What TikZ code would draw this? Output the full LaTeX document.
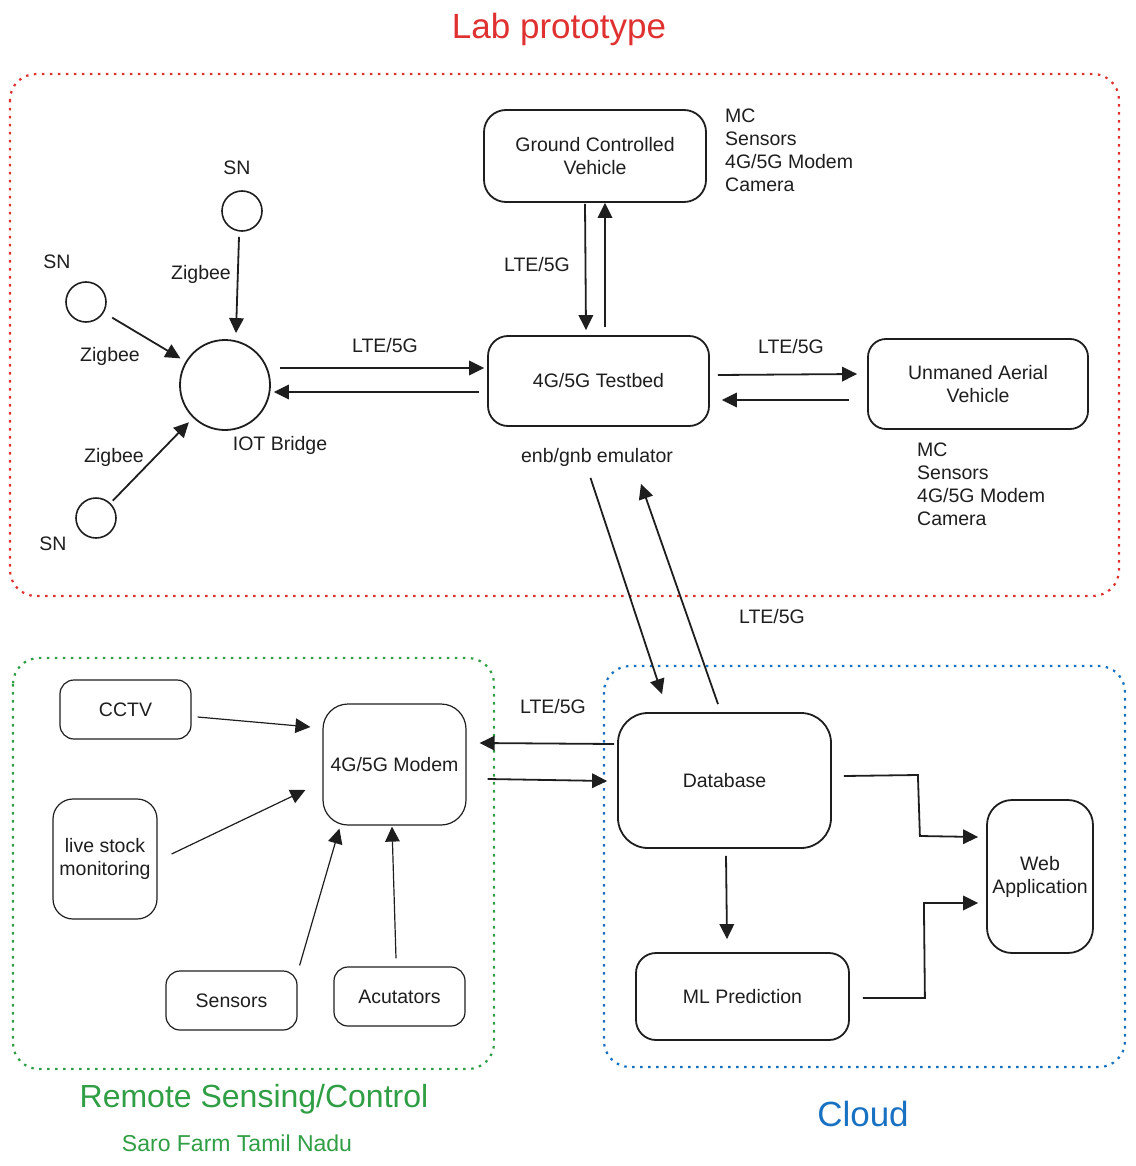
\documentclass[tikz,border=0pt]{standalone}
\usepackage{fontspec}
\setmainfont{Liberation Sans}
\usetikzlibrary{arrows.meta}

\definecolor{labred}{RGB}{224,49,49}
\definecolor{farmgreen}{RGB}{47,158,68}
\definecolor{cloudblue}{RGB}{25,113,194}
\definecolor{ink}{RGB}{30,30,30}

\tikzset{
  blk/.style={draw=ink, line width=1.8pt, rounded corners=18pt, align=center, text=ink, inner sep=2pt},
  sketch/.style={blk, line width=1.2pt},
  sn/.style={draw=ink, circle, line width=1.6pt, minimum size=40pt, inner sep=0pt},
  arr/.style={draw=ink, line width=1.8pt, -{Triangle[length=15pt,width=14.5pt]}},
  thinarr/.style={arr, line width=1.2pt},
  lbl/.style={text=ink, inner sep=0pt},
  region/.style={line width=2.2pt, dash pattern=on 2.5pt off 5.5pt, rounded corners=26pt},
  title/.style={inner sep=0pt, font=\fontsize{35}{40}\selectfont},
}

\begin{document}
\begin{tikzpicture}[x=1pt,y=-1pt,font=\fontsize{19.5}{23}\selectfont]
    \useasboundingbox (0,0) rectangle (1135,1166);

    %Regions
    \draw [region, labred] (10,74) rectangle (1119,596);
    \draw [region, farmgreen] (13,658) rectangle (494,1069);
    \draw [region, cloudblue] (604,666) rectangle (1125,1067);

    % Titles
    \node [title, text=labred] (labtitle) at (559,29) {Lab prototype};
    \node [title, text=farmgreen, font=\fontsize{32}{36}\selectfont] (farmtitle) at (254,1099) {Remote Sensing/Control};
    \node [title, text=farmgreen, font=\fontsize{23}{27}\selectfont] (farmsub) at (237,1143) {Saro Farm Tamil Nadu};
    \node [title, text=cloudblue] (cloudtitle) at (863,1114) {Cloud};

    %Lab prototype: nodes
    \node [blk, rounded corners=22pt, minimum width=222pt, minimum height=92pt] (gcv) at (595,156) {Ground Controlled\\Vehicle};
    \node [blk, rounded corners=20pt, minimum width=221pt, minimum height=90pt] (tb) at (598.5,381) {4G/5G Testbed};
    \node [blk, minimum width=220pt, minimum height=90pt] (uav) at (978,384) {Unmaned Aerial\\Vehicle};
    \node [sn, line width=1.8pt, minimum size=90pt] (bridge) at (225,385) {};
    \node [sn] (snT) at (242,211) {};
    \node [sn] (snL) at (86,302) {};
    \node [sn] (snB) at (96,518) {};

    % Text Node
    \node [lbl, anchor=north west, align=left] (gcvlist) at (725,109) {MC\\Sensors\\4G/5G Modem\\Camera};
    \node [lbl, anchor=north west, align=left] (uavlist) at (917,443) {MC\\Sensors\\4G/5G Modem\\Camera};
    \node [lbl] (emu) at (597,457) {enb/gnb emulator};
    \node [lbl] (bridgelbl) at (280,445) {IOT Bridge};
    \node [lbl] (snTlbl) at (237,168) {SN};
    \node [lbl] (snLlbl) at (57,262) {SN};
    \node [lbl] (snBlbl) at (53,544) {SN};
    \node [lbl] (zbT) at (201,274) {Zigbee};
    \node [lbl] (zbL) at (110,356) {Zigbee};
    \node [lbl] (zbB) at (114,457) {Zigbee};
    \node [lbl] (lteBr) at (385,346) {LTE/5G};
    \node [lbl] (lteGcv) at (537,265) {LTE/5G};
    \node [lbl] (lteUav) at (791,347) {LTE/5G};
    \node [lbl] (lteDb) at (772,617) {LTE/5G};
    \node [lbl] (lteMd) at (553,707) {LTE/5G};

    %Lab prototype: connectors
    \draw [arr] ([xshift=-3pt,yshift=-5pt]snT.south) -- ([xshift=11pt,yshift=6pt]bridge.north);
    \draw [arr, shorten <=9.7pt, shorten >=6pt] (snL) -- (bridge);
    \draw [arr, shorten <=3.4pt, shorten >=6pt] (snB) -- (bridge);
    \draw [arr] ([xshift=9pt,yshift=17pt]bridge.east) -- ([xshift=-3pt,yshift=13pt]tb.west);
    \draw [arr] ([xshift=-8pt,yshift=-11pt]tb.west) -- ([xshift=3pt,yshift=-7pt]bridge.east);
    \draw [arr] ([xshift=-10pt,yshift=-1pt]gcv.south) -- ([xshift=-12.5pt,yshift=5pt]tb.north);
    \draw [arr] ([xshift=6.5pt,yshift=8pt]tb.north) -- ([xshift=10pt]gcv.south);
    \draw [arr] ([xshift=8pt,yshift=6pt]tb.east) -- ([xshift=-10pt,yshift=10pt]uav.west);
    \draw [arr] ([xshift=-18pt,yshift=-16pt]uav.west) -- ([xshift=12pt,yshift=-19pt]tb.east);

    %Remote sensing: nodes
    \node [sketch, rounded corners=25pt, minimum width=143pt, minimum height=121pt] (modem) at (394.5,764.5) {4G/5G Modem};
    \node [sketch, rounded corners=14pt, minimum width=131pt, minimum height=59pt] (cctv) at (125.5,709.5) {CCTV};
    \node [sketch, rounded corners=20pt, minimum width=104pt, minimum height=120pt] (stock) at (105,859) {live stock\\monitoring};
    \node [sketch, rounded corners=14pt, minimum width=131pt, minimum height=59pt] (sens) at (231.5,1000.5) {Sensors};
    \node [sketch, rounded corners=14pt, minimum width=131pt, minimum height=59pt] (act) at (399.5,996.5) {Acutators};

    %Remote sensing: connectors
    \draw [thinarr] ([xshift=6pt,yshift=-7.5pt]cctv.east) -- ([xshift=-12pt,yshift=37.5pt]modem.west);
    \draw [thinarr] ([xshift=14pt,yshift=5pt]stock.east) -- ([xshift=-17pt,yshift=-25.5pt]modem.west);
    \draw [thinarr] ([xshift=2pt,yshift=5pt]sens.north east) -- ([xshift=17pt,yshift=-3pt]modem.south west);
    \draw [thinarr] ([xshift=-3.5pt,yshift=8pt]act.north) -- ([xshift=-2.5pt,yshift=-1pt]modem.south);

    %Cloud: nodes
    \node [blk, rounded corners=30pt, minimum width=213pt, minimum height=135pt] (db) at (724.5,780.5) {Database};
    \node [blk, rounded corners=20pt, minimum width=213pt, minimum height=87pt] (ml) at (742.5,996.5) {ML Prediction};
    \node [blk, rounded corners=25pt, minimum width=106pt, minimum height=153pt] (web) at (1040,876.5) {Web\\Application};

    %Cloud: connectors
    \draw [arr] ([xshift=-8pt,yshift=-51pt]tb.south) -- ([xshift=-62.5pt,yshift=18pt]db.north);
    \draw [arr] ([xshift=-6.5pt,yshift=8pt]db.north) -- ([xshift=42.5pt,yshift=-57pt]tb.south);
    \draw [arr] ([xshift=-3pt,yshift=36.5pt]db.west) -- ([xshift=13pt,yshift=21.5pt]modem.east);
    \draw [arr] ([xshift=21pt,yshift=-14.5pt]modem.east) -- ([xshift=-10pt,yshift=-0.5pt]db.west);
    \draw [arr] ([xshift=1.5pt,yshift=-7pt]db.south) -- ([xshift=-15.5pt,yshift=13pt]ml.north);
    \draw [arr] ([xshift=12pt,yshift=4.5pt]db.east) -- ++(74,-1) -- ++(2,61) -- ([xshift=-8pt,yshift=39.5pt]web.west);
    \draw [arr] ([xshift=13pt,yshift=-1.5pt]ml.east) -- ++(62,0) -- ++(-1,-95) -- ([xshift=-8pt,yshift=-26.5pt]web.west);

\end{tikzpicture}
\end{document}
